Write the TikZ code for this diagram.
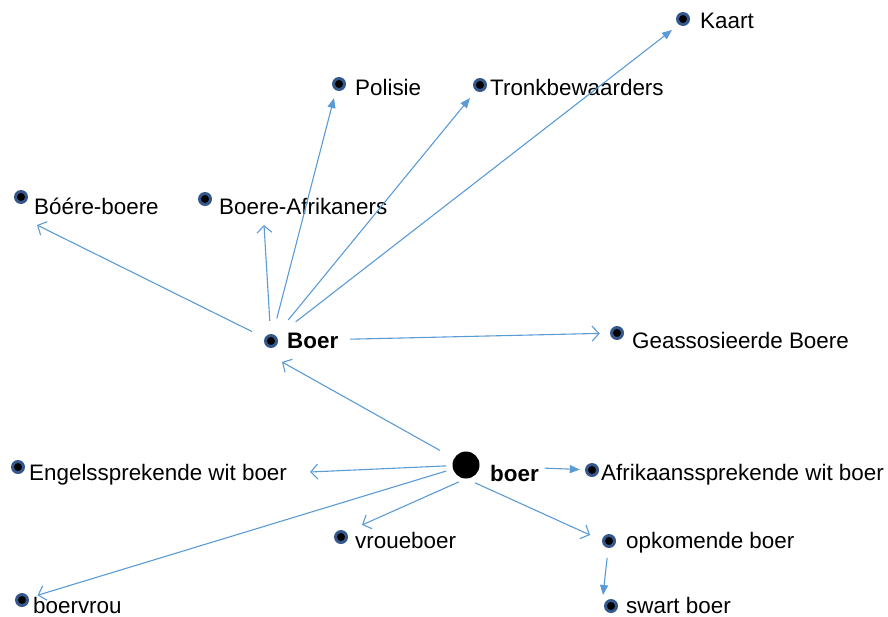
\documentclass[tikz,border=0pt]{standalone}
\usepackage{fontspec}
\setmainfont{Liberation Sans}
\usetikzlibrary{arrows.meta}
\definecolor{edgeblue}{HTML}{5B9BD5}
\definecolor{dotblue}{HTML}{34578C}
\begin{document}
\begin{tikzpicture}[x=1pt,y=-1pt,
  dot/.style={circle,fill=dotblue,minimum size=14pt,inner sep=0pt,
    path picture={\fill[black] (path picture bounding box.center) circle (4pt);}},
  bigdot/.style={circle,fill=black,minimum size=27pt,inner sep=0pt},
  lbl/.style={anchor=base west,inner sep=0pt,font=\fontsize{22.4}{26}\selectfont},
  edge/.style={draw=edgeblue,line width=1.1pt},
  arrO/.style={edge,-{Straight Barb[length=7pt,width=15pt,line width=1.1pt]}},
  arrF/.style={edge,-{Triangle[length=10pt,width=8pt]}}]
\useasboundingbox (0,0) rectangle (888,616);

% dots
\node[dot] (kaart) at (683,19) {};
\node[dot] (polisie) at (339,84) {};
\node[dot] (tronk) at (480,85) {};
\node[dot] (boereb) at (21,197) {};
\node[dot] (boerea) at (205,199) {};
\node[dot] (Boer) at (271,341) {};
\node[dot] (geass) at (617,333) {};
\node[bigdot] (boer) at (466,465) {};
\node[dot] (afr) at (592,470) {};
\node[dot] (engl) at (18,467) {};
\node[dot] (vrou) at (341,537) {};
\node[dot] (opk) at (609,541) {};
\node[dot] (swart) at (611,606) {};
\node[dot] (bvrou) at (22,600) {};

% labels
\node[lbl] (kaartL) at (700,28) {Kaart};
\node[lbl] (polisieL) at (355,95) {Polisie};
\node[lbl] (tronkL) at (490,95) {Tronkbewaarders};
\node[lbl] (boerebL) at (34,214) {Bóére-boere};
\node[lbl] (boereaL) at (219,214) {Boere-Afrikaners};
\node[lbl] (BoerL) at (287,348) {\bfseries Boer};
\node[lbl] (geassL) at (632,348) {Geassosieerde Boere};
\node[lbl] (boerL) at (490,481) {\bfseries boer};
\node[lbl] (afrL) at (601,480) {Afrikaanssprekende wit boer};
\node[lbl] (englL) at (29,480) {Engelssprekende wit boer};
\node[lbl] (vrouL) at (355,548) {vroueboer};
\node[lbl] (opkL) at (626,548) {opkomende boer};
\node[lbl] (swartL) at (626,613) {swart boer};
\node[lbl] (bvrouL) at (33,613) {boervrou};

% arrow tips
\coordinate (tPolisie) at (334,98);
\coordinate (tTronk) at (470,98);
\coordinate (tKaart) at (672,30);
\coordinate (tBoerea) at (264,225);
\coordinate (tBoereb) at (37,225);
\coordinate (tBoer) at (282,362);
\coordinate (tEngl) at (310,472);
\coordinate (tVrou) at (362,525);
\coordinate (tOpk) at (590,535);
\coordinate (tSwart) at (603,595);

% edges from Boer
\draw[arrF,shorten <=16pt] (Boer) -- (tPolisie);
\draw[arrF,shorten <=20pt] (Boer) -- (tTronk);
\draw[arrF,shorten <=24pt] (Boer) -- (tKaart);
\draw[arrO,shorten <=13pt] (Boer) -- (tBoerea);
\draw[arrO,shorten <=14pt] (Boer) -- (tBoereb);
\draw[arrO,shorten <=72pt,shorten >=10pt] (Boer) -- (geass);
% edges from boer
\draw[arrO,shorten <=16pt] (boer) -- (tBoer);
\draw[arrO,shorten <=6pt] (boer) -- (tEngl);
\draw[arrF,shorten <=65pt,shorten >=5pt] (boer) -- (afr);
\draw[arrO,shorten <=8pt] (boer.south) -- (tVrou);
\draw[arrO,shorten <=10pt] (boer.south) -- (tOpk);
\draw[arrO,shorten <=7pt,shorten >=9pt] (boer) -- (bvrou);
\draw[arrF,shorten <=10pt] (opk) -- (tSwart);
\end{tikzpicture}
\end{document}
